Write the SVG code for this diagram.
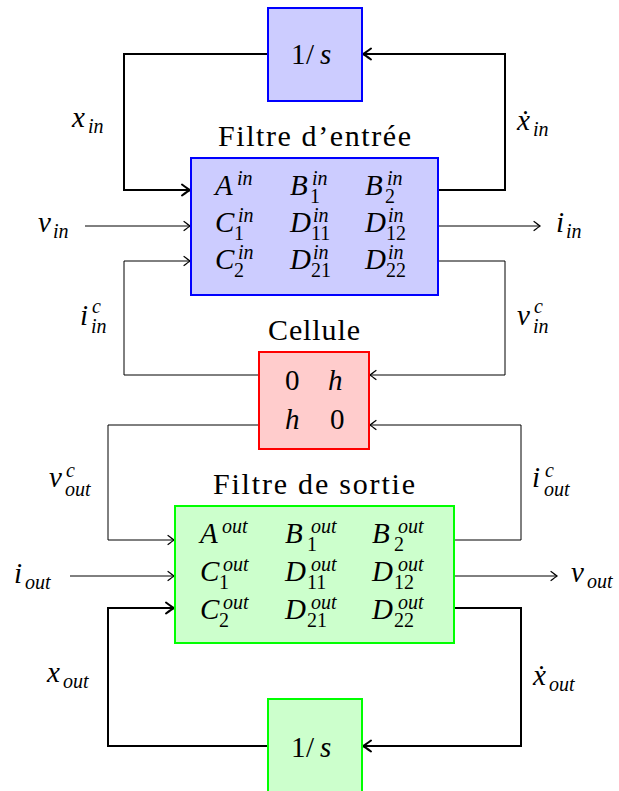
<svg xmlns="http://www.w3.org/2000/svg" width="619" height="791" viewBox="0 0 619 791" font-family="'Liberation Serif','DejaVu Serif',serif">
<style>
text{font-family:'Liberation Serif','DejaVu Serif',serif;fill:#000}
.m{font-size:29px;font-style:italic}
.r{font-style:normal}
.s{font-size:20px}
.w{font-size:30px;font-style:normal}
.th{fill:none;stroke:#000;stroke-width:1}
.tk{fill:none;stroke:#000;stroke-width:2}
.blue{fill:#ccccff;stroke:#0000ff;stroke-width:2}
.red{fill:#ffcccc;stroke:#ff0000;stroke-width:2}
.green{fill:#ccffcc;stroke:#00ff00;stroke-width:2}
</style>
<defs>
<marker id="a1" markerUnits="userSpaceOnUse" viewBox="-8 -6 10 12" refX="0" refY="0" markerWidth="10" markerHeight="12" orient="auto" overflow="visible">
<path d="M-6,-4.5 Q-1.5,-1 0,0 Q-1.5,1 -6,4.5" fill="none" stroke="#000" stroke-width="1.2" stroke-linecap="round"/>
</marker>
<marker id="a2" markerUnits="userSpaceOnUse" viewBox="-10 -7 12 14" refX="0" refY="0" markerWidth="12" markerHeight="14" orient="auto" overflow="visible">
<path d="M-8,-5.5 Q-2,-1 0,0 Q-2,1 -8,5.5" fill="none" stroke="#000" stroke-width="2" stroke-linecap="round"/>
</marker>
</defs>

<g id="connectors">
<path class="tk" d="M268,54 H124 V190 H190" marker-end="url(#a2)"/>
<path class="tk" d="M438,190 H505 V54 H363" marker-end="url(#a2)"/>
<path class="th" d="M85,226 H190" marker-end="url(#a1)"/>
<path class="th" d="M438,226 H540" marker-end="url(#a1)"/>
<path class="th" d="M259,375 H124 V261 H190" marker-end="url(#a1)"/>
<path class="th" d="M438,261 H505 V375 H370" marker-end="url(#a1)"/>
<path class="th" d="M259,425 H108 V540 H174" marker-end="url(#a1)"/>
<path class="th" d="M454,540 H521 V425 H370" marker-end="url(#a1)"/>
<path class="th" d="M70,576 H174" marker-end="url(#a1)"/>
<path class="th" d="M454,576 H557" marker-end="url(#a1)"/>
<path class="tk" d="M454,608 H521 V746 H363" marker-end="url(#a2)"/>
<path class="tk" d="M268,746 H108 V608 H174" marker-end="url(#a2)"/>
</g>

<g id="labels">
<text class="m" x="72" y="127">x<tspan class="s" x="88" y="133">in</tspan></text>
<text class="m" x="517" y="130">ẋ<tspan class="s" x="533" y="136">in</tspan></text>
<text class="m" x="38" y="232">v<tspan class="s" x="53" y="238">in</tspan></text>
<text class="m" x="556" y="232">i<tspan class="s" x="566" y="238">in</tspan></text>
<text class="m" x="80" y="325">i<tspan class="s" x="92" y="313">c</tspan><tspan class="s" x="91" y="333">in</tspan></text>
<text class="m" x="517" y="325">v<tspan class="s" x="534" y="313">c</tspan><tspan class="s" x="533" y="333">in</tspan></text>
<text class="m" x="49" y="487">v<tspan class="s" x="66" y="477">c</tspan><tspan class="s" x="65" y="496">out</tspan></text>
<text class="m" x="532" y="487">i<tspan class="s" x="545" y="477">c</tspan><tspan class="s" x="544" y="496">out</tspan></text>
<text class="m" x="14" y="583">i<tspan class="s" x="25" y="589">out</tspan></text>
<text class="m" x="571" y="582">v<tspan class="s" x="587" y="588">out</tspan></text>
<text class="m" x="47" y="682">x<tspan class="s" x="63" y="688">out</tspan></text>
<text class="m" x="533" y="685">ẋ<tspan class="s" x="549" y="691">out</tspan></text>
</g>

<g id="int-in">
<rect class="blue" x="268" y="8" width="94" height="93"/>
<text class="m r" x="291" y="64">1<tspan x="306">/</tspan><tspan class="m" x="320">s</tspan></text>
</g>

<g id="filtre-entree">
<text class="w" x="218" y="146" textLength="193" lengthAdjust="spacing">Filtre d’entrée</text>
<rect class="blue" x="191" y="158" width="247" height="137"/>
<text class="m" x="215" y="195">A<tspan class="s" x="237" y="185">in</tspan></text>
<text class="m" x="290" y="195">B<tspan class="s" x="312" y="185">in</tspan><tspan class="s r" x="310" y="203">1</tspan></text>
<text class="m" x="365" y="195">B<tspan class="s" x="387" y="185">in</tspan><tspan class="s r" x="385" y="203">2</tspan></text>
<text class="m" x="215" y="232">C<tspan class="s" x="238" y="222">in</tspan><tspan class="s r" x="234" y="240">1</tspan></text>
<text class="m" x="290" y="232">D<tspan class="s" x="313" y="222">in</tspan><tspan class="s r" x="311" y="240">11</tspan></text>
<text class="m" x="365" y="232">D<tspan class="s" x="388" y="222">in</tspan><tspan class="s r" x="386" y="240">12</tspan></text>
<text class="m" x="215" y="269">C<tspan class="s" x="238" y="259">in</tspan><tspan class="s r" x="234" y="277">2</tspan></text>
<text class="m" x="290" y="269">D<tspan class="s" x="313" y="259">in</tspan><tspan class="s r" x="311" y="277">21</tspan></text>
<text class="m" x="365" y="269">D<tspan class="s" x="388" y="259">in</tspan><tspan class="s r" x="386" y="277">22</tspan></text>
</g>

<g id="cellule">
<text class="w" x="268" y="340" textLength="92" lengthAdjust="spacing">Cellule</text>
<rect class="red" x="259" y="352" width="110" height="97"/>
<text class="m r" x="285" y="390">0</text>
<text class="m" x="328" y="390">h</text>
<text class="m" x="285" y="429">h</text>
<text class="m r" x="330" y="429">0</text>
</g>

<g id="filtre-sortie">
<text class="w" x="213" y="494" textLength="202" lengthAdjust="spacing">Filtre de sortie</text>
<rect class="green" x="175" y="506" width="279" height="137"/>
<text class="m" x="200" y="543">A<tspan class="s" x="222" y="533">out</tspan></text>
<text class="m" x="285" y="543">B<tspan class="s" x="311" y="533">out</tspan><tspan class="s r" x="307" y="551">1</tspan></text>
<text class="m" x="372" y="543">B<tspan class="s" x="398" y="533">out</tspan><tspan class="s r" x="394" y="551">2</tspan></text>
<text class="m" x="200" y="581">C<tspan class="s" x="223" y="571">out</tspan><tspan class="s r" x="219" y="589">1</tspan></text>
<text class="m" x="285" y="581">D<tspan class="s" x="311" y="571">out</tspan><tspan class="s r" x="307" y="589">11</tspan></text>
<text class="m" x="372" y="581">D<tspan class="s" x="398" y="571">out</tspan><tspan class="s r" x="394" y="589">12</tspan></text>
<text class="m" x="200" y="619">C<tspan class="s" x="223" y="609">out</tspan><tspan class="s r" x="219" y="627">2</tspan></text>
<text class="m" x="285" y="619">D<tspan class="s" x="311" y="609">out</tspan><tspan class="s r" x="307" y="627">21</tspan></text>
<text class="m" x="372" y="619">D<tspan class="s" x="398" y="609">out</tspan><tspan class="s r" x="394" y="627">22</tspan></text>
</g>

<g id="int-out">
<rect class="green" x="268" y="699" width="94" height="100"/>
<text class="m r" x="291" y="757">1<tspan x="306">/</tspan><tspan class="m" x="320">s</tspan></text>
</g>
</svg>
